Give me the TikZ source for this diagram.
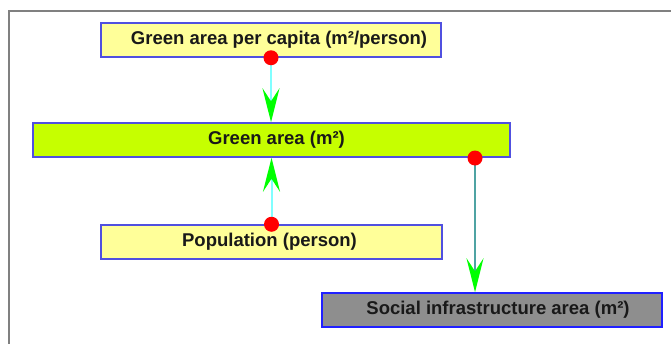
\documentclass[tikz,border=0pt]{standalone}
\usepackage{fontspec}
\setmainfont{Liberation Sans}
\usetikzlibrary{arrows.meta}
\definecolor{boxyellow}{HTML}{FFFF99}
\definecolor{boxlime}{HTML}{C6FF00}
\definecolor{boxgray}{HTML}{8E8E8E}
\definecolor{edgeblue}{HTML}{5050E0}
\definecolor{edgebright}{HTML}{2020FF}
\definecolor{linkcyan}{HTML}{80FFFF}
\definecolor{linkteal}{HTML}{4FA3A3}
\definecolor{tipgreen}{HTML}{00FF00}
\definecolor{framegray}{HTML}{808080}
\tikzset{
  varbox/.style={draw=edgeblue, line width=1.5pt, minimum height=34pt, inner sep=0pt,
    font=\fontsize{18.5}{20}\selectfont\bfseries, text=black!90},
  link/.style={line width=2pt, -{Stealth[length=34pt,width=17pt,inset=13pt,color=tipgreen]}},
  dotmark/.style={fill=red, draw=none, circle, minimum size=15pt, inner sep=0pt}
}
\begin{document}
\begin{tikzpicture}[x=1pt,y=-1pt]
\useasboundingbox (0,0) rectangle (671,343);
% frame
\draw[framegray, line width=2pt] (9,350) -- (9,11) -- (680,11);
% boxes
\node[varbox, fill=boxyellow, minimum width=340pt] (cap) at (271,40) {\hspace*{16pt}Green area per capita (m²/person)};
\node[varbox, fill=boxlime, minimum width=477pt] (green) at (271.5,140) {\hspace*{10pt}Green area (m²)};
\node[varbox, fill=boxyellow, minimum width=341pt] (pop) at (271.5,242) {Population (person)\hspace*{4pt}};
\node[varbox, fill=boxgray, draw=edgebright, minimum width=340pt] (soc) at (492,310) {\hspace*{12pt}Social infrastructure area (m²)};
% connectors
\coordinate (s1) at (cap.south);
\coordinate (s2) at (pop.north);
\coordinate (s3) at (475,158);
\draw[link, linkcyan] (s1) -- (s1 |- green.north);
\draw[link, linkcyan] (s2) -- (s2 |- green.south);
\draw[link, linkteal, line width=1.5pt] (s3) -- (s3 |- soc.north);
% dots
\node[dotmark] (d1) at (s1) {};
\node[dotmark] (d2) at (s2) {};
\node[dotmark] (d3) at (s3) {};
\end{tikzpicture}
\end{document}
